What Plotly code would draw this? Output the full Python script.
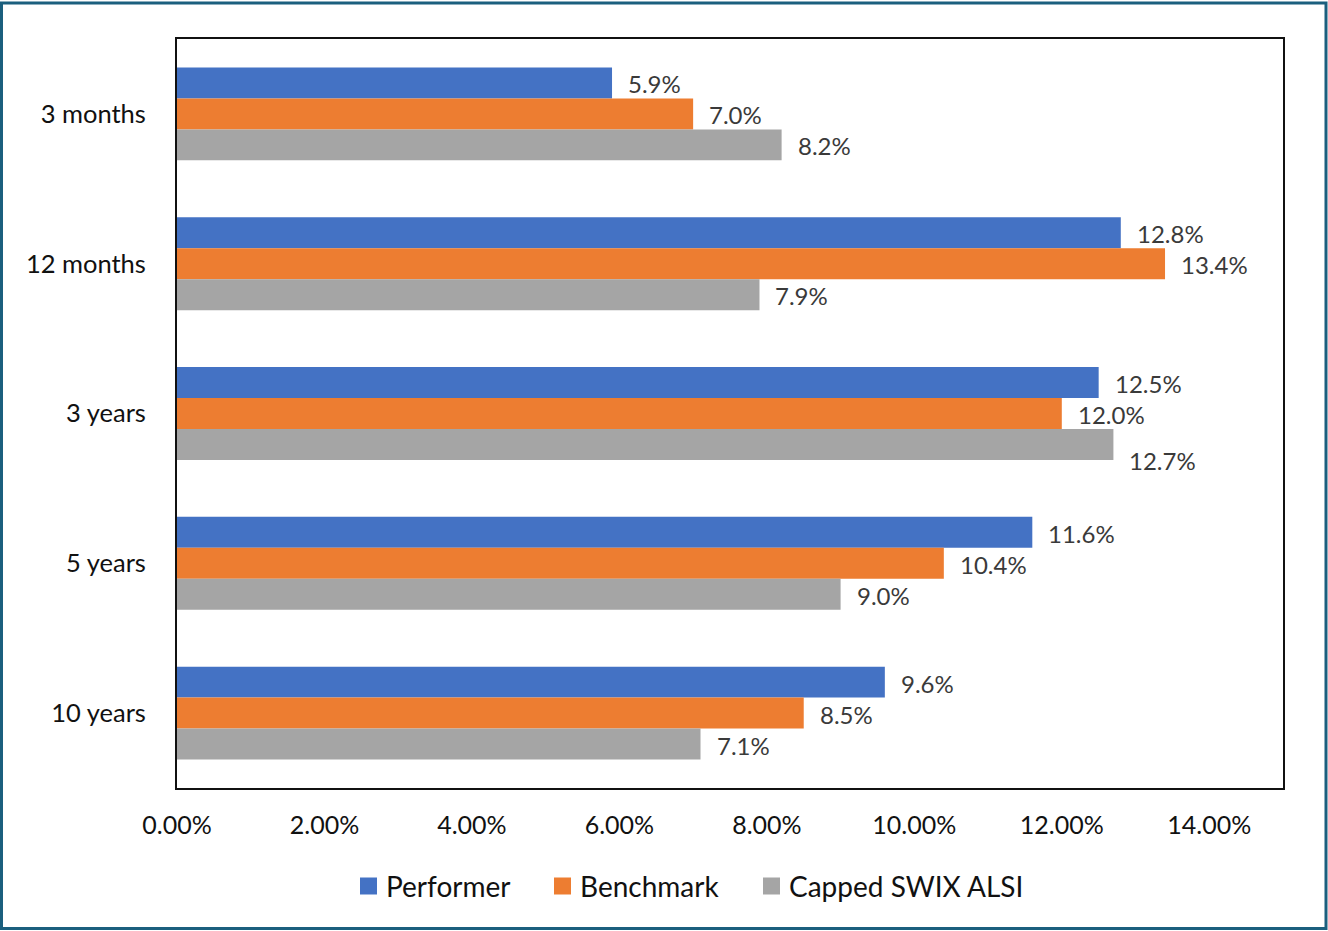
import plotly.graph_objects as go

# Return periods and annualised returns (%)
periods = ["3 months", "12 months", "3 years", "5 years", "10 years"]
performer = [5.9, 12.8, 12.5, 11.6, 9.6]
benchmark = [7.0, 13.4, 12.0, 10.4, 8.5]
capped_swix = [8.2, 7.9, 12.7, 9.0, 7.1]
x_ticks = [0, 2, 4, 6, 8, 10, 12, 14]

series_names = ["Performer", "Benchmark", "Capped SWIX ALSI"]
series_values = [performer, benchmark, capped_swix]
series_colors = ["#4472C4", "#ED7D31", "#A5A5A5"]

W, H = 1328, 931
L, R, T, B = 177, 45, 39, 143
FONT = "Lato, 'Open Sans', sans-serif"
TEXT = "#111111"
LABEL = "#3a3a3a"

bargap = 0.38
cat_px = (H - T - B) / len(periods)
bar_px = cat_px * (1 - bargap) / len(series_names)

fig = go.Figure()
for name, vals, color in zip(series_names, series_values, series_colors):
    fig.add_trace(go.Bar(
        y=periods, x=vals, name=name, orientation="h",
        marker=dict(color=color, line=dict(width=0)),
        hoverinfo="x+y", showlegend=False,
    ))

# value labels; one label in the "3 years" group is nudged down to avoid overlap
nudge = {("Capped SWIX ALSI", "3 years"): -15}
annotations = []
for i, (name, vals) in enumerate(zip(series_names, series_values)):
    base_shift = (1 - i) * bar_px
    for p, v in zip(periods, vals):
        annotations.append(dict(
            x=v, y=p, xref="x", yref="y", text=f"{v:.1f}%",
            showarrow=False, xanchor="left", yanchor="middle",
            xshift=14, yshift=base_shift + nudge.get((name, p), 0) - 1,
            font=dict(family=FONT, size=24, color=LABEL),
        ))

pw, ph = W - L - R, H - T - B
def px_x(x):
    return (x - L) / pw
def px_y(y):
    return (H - B - y) / ph

# outer frame around the whole graphic
shapes = [dict(
    type="rect", xref="paper", yref="paper",
    x0=px_x(1.5), x1=px_x(W - 2), y0=px_y(H - 2.5), y1=px_y(3),
    line=dict(color="#1B5F7E", width=3), fillcolor="rgba(0,0,0,0)",
    layer="above",
)]

# legend row below the axis: colour swatch followed by series name
legend_y = 886
legend_swatch_x = [360, 554, 763]
sw = 17
for name, color, sx in zip(series_names, series_colors, legend_swatch_x):
    shapes.append(dict(
        type="rect", xref="paper", yref="paper",
        x0=px_x(sx), x1=px_x(sx + sw),
        y0=px_y(legend_y + sw / 2), y1=px_y(legend_y - sw / 2),
        fillcolor=color, line=dict(width=0),
    ))
    annotations.append(dict(
        x=px_x(sx + sw + 7), y=px_y(legend_y), xref="paper", yref="paper",
        text=name, showarrow=False, xanchor="left", yanchor="middle",
        font=dict(family=FONT, size=28, color=TEXT),
    ))

fig.update_layout(
    width=W, height=H,
    margin=dict(l=L, r=R, t=T, b=B),
    paper_bgcolor="white", plot_bgcolor="white",
    barmode="group", bargap=bargap, bargroupgap=0,
    font=dict(family=FONT, size=24, color=TEXT),
    showlegend=False,
    xaxis=dict(
        range=[0, 15], tickvals=x_ticks,
        ticktext=[f"{t:.2f}%" for t in x_ticks],
        showgrid=False, zeroline=False,
        showline=True, linecolor="#111111", linewidth=2, mirror=True,
        ticks="", ticklabelstandoff=14,
        tickfont=dict(family=FONT, size=25, color=TEXT),
    ),
    yaxis=dict(
        autorange="reversed", showgrid=False, zeroline=False,
        showline=True, linecolor="#111111", linewidth=2, mirror=True,
        ticks="", ticklabelstandoff=24,
        tickfont=dict(family=FONT, size=25.5, color=TEXT),
    ),
    annotations=annotations,
    shapes=shapes,
)

fig.write_html("out.html")
